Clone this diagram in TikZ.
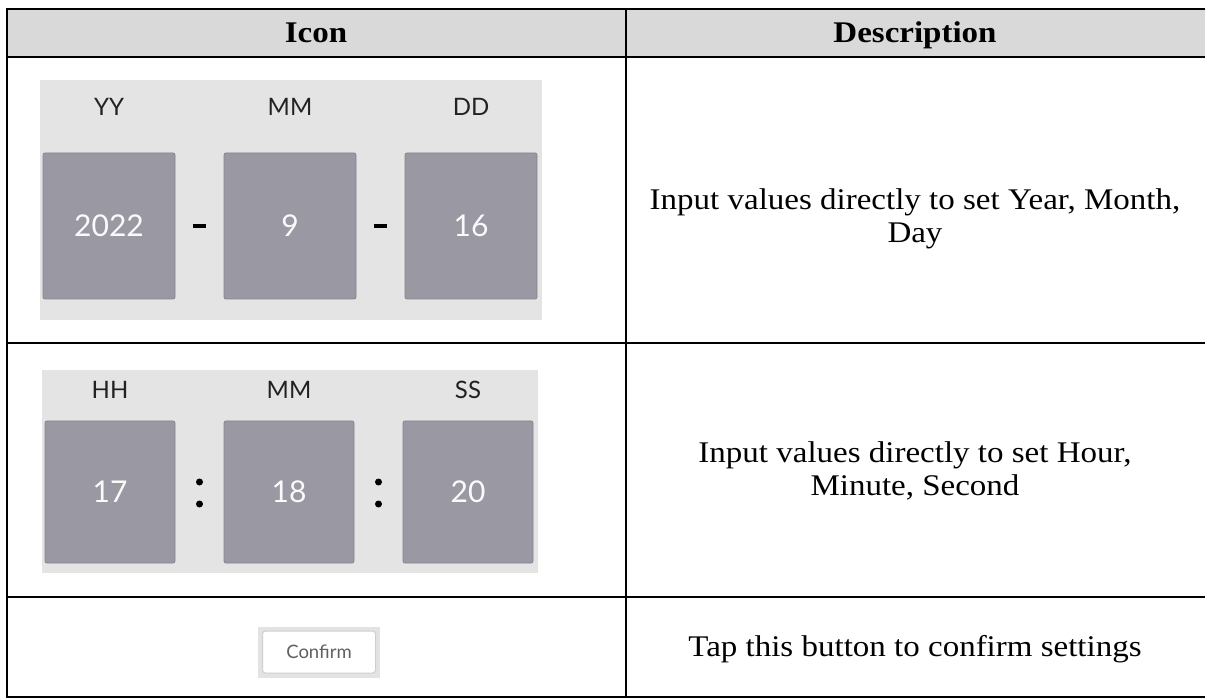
\documentclass[tikz,border=0pt]{standalone}
\usepackage{fontspec}
\setmainfont[FakeStretch=1.1]{Liberation Serif}
\newfontfamily\latofont{Lato}
\usetikzlibrary{positioning}

\definecolor{hdrgray}{HTML}{D9D9D9}
\definecolor{panelgray}{HTML}{E4E4E4}
\definecolor{boxgray}{HTML}{9A99A3}
\definecolor{boxedge}{HTML}{86858F}
\definecolor{lblgray}{HTML}{222222}
\definecolor{btngray}{HTML}{CFCFCF}
\definecolor{halogray}{HTML}{E3E3E3}

\tikzset{
  hdr/.style={font=\fontsize{30}{34}\selectfont\bfseries, inner sep=0pt, anchor=base},
  desc/.style={font=\fontsize{30}{33}\selectfont, align=center, inner sep=0pt},
  lbl/.style={font=\latofont\fontsize{24}{26}\selectfont, text=lblgray, inner sep=0pt},
  valbox/.style={draw=boxedge, fill=boxgray, rounded corners=2pt, line width=0.8pt,
    minimum width=132pt, minimum height=146pt, inner sep=0pt, outer sep=0pt,
    text=white!96!gray, font=\latofont\fontsize{30}{32}\selectfont},
  dashbar/.style={fill=black, minimum width=13pt, minimum height=4.5pt, inner sep=0pt},
  btn/.style={draw=btngray, fill=white, rounded corners=3pt, line width=1pt,
    minimum width=113pt, minimum height=42pt, inner sep=0pt, text=black!62,
    font=\latofont\fontsize{18.5}{20}\selectfont}
}

\begin{document}
\begin{tikzpicture}[x=1pt, y=-1pt]
  \useasboundingbox (0,0) rectangle (1205,700);

  % table frame
  \fill[hdrgray] (7,9) rectangle (1207,57);
  \draw[line width=2pt] (1207,9) -- (7,9) -- (7,697) -- (1207,697);
  \draw[line width=2pt] (7,57) -- (1207,57);
  \draw[line width=2pt] (7,343) -- (1207,343);
  \draw[line width=2pt] (7,597) -- (1207,597);
  \draw[line width=2pt] (626,9) -- (626,697);

  \node[hdr] (icon) at (316,43) {Icon};
  \node[hdr] (description) at (915,43) {Description};

  % date panel
  \fill[panelgray] (40,80) rectangle (542,320);
  \node[valbox] (yyval) at (109,226) {2022};
  \node[dashbar, right=18pt of yyval] (dash1) {};
  \node[valbox, right=49pt of yyval] (mmval) {9};
  \node[dashbar, right=18pt of mmval] (dash2) {};
  \node[valbox, right=49pt of mmval] (ddval) {16};
  \node[lbl] (yy) at (yyval |- 0,107) {YY};
  \node[lbl] (mm) at (mmval |- 0,107) {MM};
  \node[lbl] (dd) at (ddval |- 0,107) {DD};

  % time panel
  \fill[panelgray] (42,370) rectangle (538,573);
  \node[valbox, minimum width=130pt, minimum height=142pt] (hhval) at (110,492) {17};
  \node[valbox, minimum width=130pt, minimum height=142pt, right=49pt of hhval] (minval) {18};
  \node[valbox, minimum width=130pt, minimum height=142pt, right=49pt of minval] (ssval) {20};
  \node[lbl] (hh) at (hhval |- 0,390) {HH};
  \node[lbl] (mins) at (minval |- 0,390) {MM};
  \node[lbl] (ss) at (ssval |- 0,390) {SS};
  \coordinate[right=24.5pt of hhval] (colon1);
  \coordinate[right=24.5pt of minval] (colon2);
  \fill (colon1) ++(0,-10) circle (3.5) (colon1) ++(0,12) circle (3.5);
  \fill (colon2) ++(0,-10) circle (3.5) (colon2) ++(0,12) circle (3.5);

  % confirm button
  \node[fill=halogray, minimum width=122pt, minimum height=51pt, inner sep=0pt] (btnhalo) at (319,652) {};
  \node[btn] (confirm) at (btnhalo) {Confirm};

  % descriptions
  \node[desc] (desc1) at (915,219) {Input values directly to set Year, Month,\\Day};
  \node[desc] (desc2) at (915,471) {Input values directly to set Hour,\\Minute, Second};
  \node[desc] (desc3) at (915,649) {Tap this button to confirm settings};
\end{tikzpicture}
\end{document}
